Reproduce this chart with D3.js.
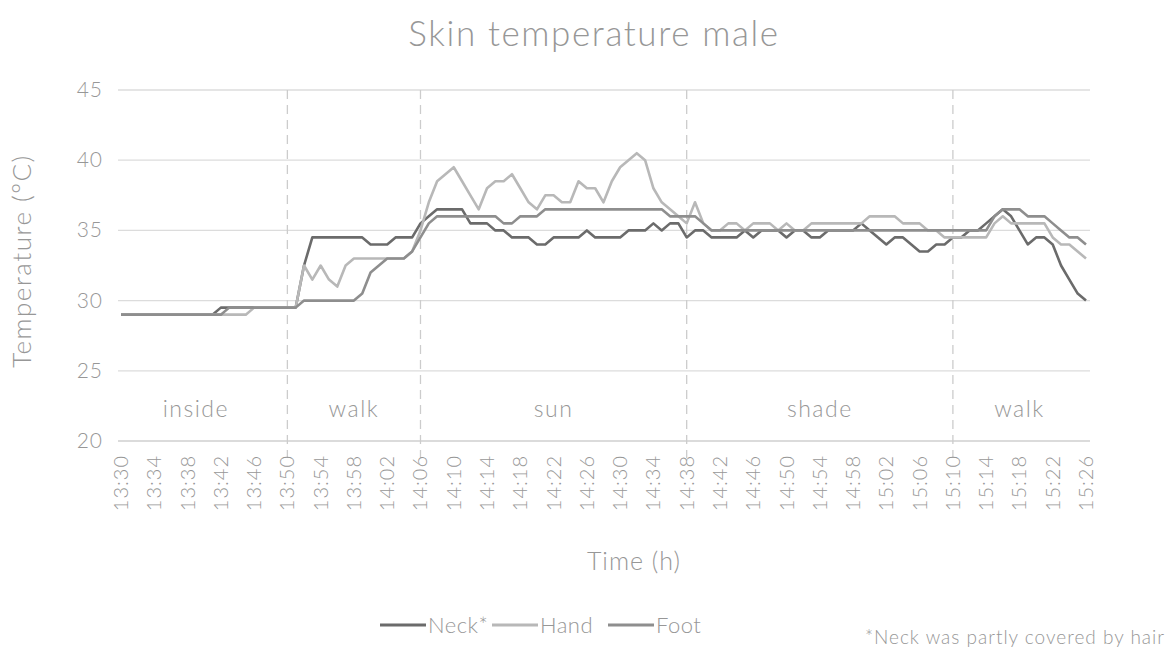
<!DOCTYPE html>
<html>
<head>
<meta charset="utf-8">
<script src="https://cdn.jsdelivr.net/npm/d3@7"></script>
<style>
  body { margin: 0; background: #fff; }
  svg text { font-family: Lato, "Open Sans", sans-serif; font-weight: 300; fill: #979797; }
</style>
</head>
<body>
<script>
// one reading per minute, 13:30 .. 15:26
var startTime = "13:30";
var neck = [
  29,29,29,29,29,29,29,29,29,29,
  29,29,29.5,29.5,29.5,29.5,29.5,29.5,29.5,29.5,
  29.5,29.5,32.5,34.5,34.5,34.5,34.5,34.5,34.5,34.5,
  34,34,34,34.5,34.5,34.5,35.5,36,36.5,36.5,
  36.5,36.5,35.5,35.5,35.5,35,35,34.5,34.5,34.5,
  34,34,34.5,34.5,34.5,34.5,35,34.5,34.5,34.5,
  34.5,35,35,35,35.5,35,35.5,35.5,34.5,35,
  35,34.5,34.5,34.5,34.5,35,34.5,35,35,35,
  34.5,35,35,34.5,34.5,35,35,35,35,35.5,
  35,34.5,34,34.5,34.5,34,33.5,33.5,34,34,
  34.5,34.5,35,35,35.5,36,36.5,36,35,34,
  34.5,34.5,34,32.5,31.5,30.5,30
];
var hand = [
  29,29,29,29,29,29,29,29,29,29,
  29,29,29,29,29,29,29.5,29.5,29.5,29.5,
  29.5,29.5,32.5,31.5,32.5,31.5,31,32.5,33,33,
  33,33,33,33,33,33.5,35,37,38.5,39,
  39.5,38.5,37.5,36.5,38,38.5,38.5,39,38,37,
  36.5,37.5,37.5,37,37,38.5,38,38,37,38.5,
  39.5,40,40.5,40,38,37,36.5,36,35.5,37,
  35.5,35,35,35.5,35.5,35,35.5,35.5,35.5,35,
  35.5,35,35,35.5,35.5,35.5,35.5,35.5,35.5,35.5,
  36,36,36,36,35.5,35.5,35.5,35,35,34.5,
  34.5,34.5,34.5,34.5,34.5,35.5,36,35.5,35.5,35.5,
  35.5,35.5,34.5,34,34,33.5,33
];
var foot = [
  29,29,29,29,29,29,29,29,29,29,
  29,29,29,29.5,29.5,29.5,29.5,29.5,29.5,29.5,
  29.5,29.5,30,30,30,30,30,30,30,30.5,
  32,32.5,33,33,33,33.5,34.5,35.5,36,36,
  36,36,36,36,36,36,35.5,35.5,36,36,
  36,36.5,36.5,36.5,36.5,36.5,36.5,36.5,36.5,36.5,
  36.5,36.5,36.5,36.5,36.5,36.5,36,36,36,36,
  35.5,35,35,35,35,35,35,35,35,35,
  35,35,35,35,35,35,35,35,35,35,
  35,35,35,35,35,35,35,35,35,35,
  35,35,35,35,35,36,36.5,36.5,36.5,36,
  36,36,35.5,35,34.5,34.5,34
];
var seriesNames = ["Neck*", "Hand", "Foot"];
var seriesColors = ["#6b6b6b", "#b8b8b8", "#8e8e8e"];
var xTicks = ["13:30","13:34","13:38","13:42","13:46","13:50","13:54","13:58","14:02","14:06",
  "14:10","14:14","14:18","14:22","14:26","14:30","14:34","14:38","14:42","14:46",
  "14:50","14:54","14:58","15:02","15:06","15:10","15:14","15:18","15:22","15:26"];
var yTicks = [20, 25, 30, 35, 40, 45];
var phaseNames = ["inside", "walk", "sun", "shade", "walk"];
var phaseBreaks = ["13:50", "14:06", "14:38", "15:10"];
var phaseCenters = ["13:39", "13:58", "14:22", "14:54", "15:18"];

var W = 1168, H = 649;
var parse = d3.timeParse("%H:%M"), fmt = d3.timeFormat("%H:%M");
var t0 = parse(startTime);
var times = neck.map(function(v, i) { return fmt(d3.timeMinute.offset(t0, i)); });

var x = d3.scalePoint().domain(times).range([121, 1086]);
var y = d3.scaleLinear().domain([20, 45]).range([441, 90]);

var svg = d3.select("body").append("svg").attr("width", W).attr("height", H);

// title
svg.append("text").attr("x", 594).attr("y", 46).attr("text-anchor", "middle")
  .style("font-size", "35px").style("letter-spacing", "1.6px").text("Skin temperature male");

// horizontal grid
svg.append("g").selectAll("line").data(yTicks).enter().append("line")
  .attr("x1", 118).attr("x2", 1090)
  .attr("y1", function(d) { return y(d); }).attr("y2", function(d) { return y(d); })
  .attr("stroke", function(d) { return d == 20 ? "#cfcfcf" : "#dcdcdc"; }).attr("stroke-width", 1.3);

// y labels
svg.append("g").selectAll("text").data(yTicks).enter().append("text")
  .attr("x", 103).attr("y", function(d) { return y(d) + 7; })
  .attr("text-anchor", "end").style("font-size", "21px").style("letter-spacing", "1px")
  .text(function(d) { return d; });

// phase separators
svg.append("g").selectAll("line").data(phaseBreaks).enter().append("line")
  .attr("x1", function(d) { return x(d); }).attr("x2", function(d) { return x(d); })
  .attr("y1", 90).attr("y2", 458)
  .attr("stroke", "#cccccc").attr("stroke-width", 1.3).attr("stroke-dasharray", "9,6");

// phase labels
svg.append("g").selectAll("text").data(phaseNames).enter().append("text")
  .attr("x", function(d, i) { return x(phaseCenters[i]); }).attr("y", 417)
  .attr("text-anchor", "middle").style("font-size", "23px").style("letter-spacing", "1.5px")
  .text(function(d) { return d; });

// x tick labels
svg.append("g").selectAll("text").data(xTicks).enter().append("text")
  .attr("transform", function(d) { return "translate(" + (x(d) + 7) + ",455) rotate(-90)"; })
  .attr("text-anchor", "end").style("font-size", "20px").style("letter-spacing", "1px")
  .text(function(d) { return d; });

// axis titles
svg.append("text").attr("x", 634).attr("y", 570).attr("text-anchor", "middle")
  .style("font-size", "25px").style("letter-spacing", "1px").text("Time (h)");
svg.append("text").attr("transform", "translate(31,261) rotate(-90)")
  .attr("text-anchor", "middle").style("font-size", "26px").style("letter-spacing", "1.5px")
  .text("Temperature (°C)");

// series
var line = d3.line().x(function(d, i) { return x(times[i]); }).y(function(d) { return y(d); });
[neck, hand, foot].forEach(function(s, k) {
  svg.append("path").datum(s).attr("d", line).attr("fill", "none")
    .attr("stroke", seriesColors[k]).attr("stroke-width", 2.6).attr("stroke-linejoin", "round");
});

// legend
var legX = [380, 492, 608];
var leg = svg.append("g").selectAll("g").data(seriesNames).enter().append("g")
  .attr("transform", function(d, i) { return "translate(" + legX[i] + ",625)"; });
leg.append("line").attr("x1", 0).attr("x2", 46).attr("stroke-width", 3)
  .attr("stroke", function(d, i) { return seriesColors[i]; });
leg.append("text").attr("x", 48).attr("y", 8).style("font-size", "22px").style("letter-spacing", "0.5px")
  .text(function(d) { return d; });

// footnote
svg.append("text").attr("x", 1165).attr("y", 644).attr("text-anchor", "end")
  .style("font-size", "19px").style("letter-spacing", "1px").text("*Neck was partly covered by hair");
</script>
</body>
</html>
